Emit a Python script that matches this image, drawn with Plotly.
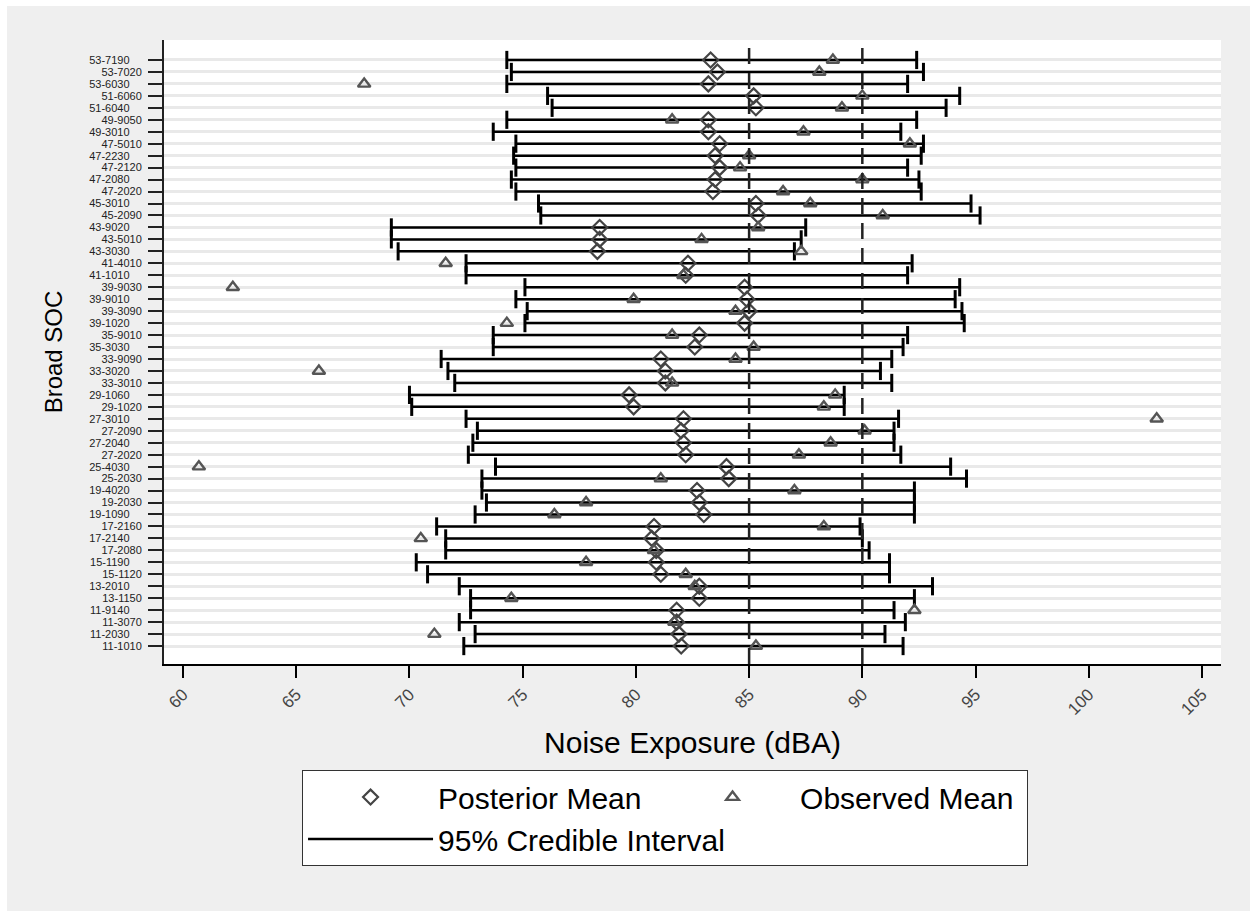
import plotly.graph_objects as go

categories = ["53-7190","53-7020","53-6030","51-6060","51-6040","49-9050","49-3010","47-5010","47-2230","47-2120",
              "47-2080","47-2020","45-3010","45-2090","43-9020","43-5010","43-3030","41-4010","41-1010","39-9030",
              "39-9010","39-3090","39-1020","35-9010","35-3030","33-9090","33-3020","33-3010","29-1060","29-1020",
              "27-3010","27-2090","27-2040","27-2020","25-4030","25-2030","19-4020","19-2030","19-1090","17-2160",
              "17-2140","17-2080","15-1190","15-1120","13-2010","13-1150","11-9140","11-3070","11-2030","11-1010"]

posterior_mean = [83.3,83.6,83.2,85.2,85.3,83.2,83.2,83.7,83.5,83.7,
                  83.5,83.4,85.3,85.4,78.4,78.4,78.3,82.3,82.2,84.8,
                  84.9,85.0,84.8,82.8,82.6,81.1,81.3,81.3,79.7,79.9,
                  82.1,82.0,82.1,82.2,84.0,84.1,82.7,82.8,83.0,80.8,
                  80.7,80.9,80.9,81.1,82.8,82.8,81.8,81.8,81.9,82.0]

observed_mean = [88.7,88.1,68.0,90.0,89.1,81.6,87.4,92.1,85.0,84.6,
                 90.0,86.5,87.7,90.9,85.4,82.9,87.3,71.6,82.1,62.2,
                 79.9,84.4,74.3,81.6,85.2,84.4,66.0,81.6,88.8,88.3,
                 103.0,90.1,88.6,87.2,60.7,81.1,87.0,77.8,76.4,88.3,
                 70.5,80.8,77.8,82.2,82.6,74.5,92.3,81.7,71.1,85.3]

ci_lower = [74.3,74.5,74.3,76.1,76.3,74.3,73.7,74.7,74.6,74.7,
            74.5,74.7,75.7,75.8,69.2,69.2,69.5,72.5,72.5,75.1,
            74.7,75.2,75.1,73.7,73.7,71.4,71.7,72.0,70.0,70.1,
            72.5,73.0,72.8,72.6,73.8,73.2,73.2,73.4,72.9,71.2,
            71.6,71.6,70.3,70.8,72.2,72.7,72.7,72.2,72.9,72.4]

ci_upper = [92.4,92.7,92.0,94.3,93.7,92.4,91.7,92.7,92.6,92.0,
            92.5,92.6,94.8,95.2,87.5,87.3,87.0,92.2,92.0,94.3,
            94.1,94.4,94.5,92.0,91.8,91.3,90.8,91.3,89.2,89.2,
            91.6,91.4,91.4,91.7,93.9,94.6,92.3,92.3,92.3,89.9,
            90.0,90.3,91.2,91.2,93.1,92.3,91.4,91.9,91.0,91.8]

reference_lines = [85, 90]
x_ticks = [60, 65, 70, 75, 80, 85, 90, 95, 100, 105]

# alternate tick label offsets (Stata 'alternate' style)
tick_text = [c + "\u00a0" * 4 if i % 2 == 0 else c for i, c in enumerate(categories)]

# build CI segments
ci_x, ci_y = [], []
for c, lo, hi in zip(categories, ci_lower, ci_upper):
    ci_x += [lo, hi, None]
    ci_y += [c, c, None]

cap_x = ci_lower + ci_upper
cap_y = categories + categories

fig = go.Figure()

fig.add_trace(go.Scatter(
    x=ci_x, y=ci_y, mode="lines", name="95% Credible Interval",
    line=dict(color="black", width=2.5), legendrank=3, hoverinfo="skip"))

fig.add_trace(go.Scatter(
    x=cap_x, y=cap_y, mode="markers", showlegend=False, hoverinfo="skip",
    marker=dict(symbol="line-ns", size=13, line=dict(color="black", width=3))))

fig.add_trace(go.Scatter(
    x=posterior_mean, y=categories, mode="markers", name="Posterior Mean",
    marker=dict(symbol="diamond-open", size=11.5, color="#444444", line=dict(width=2.2)),
    legendrank=1))

fig.add_trace(go.Scatter(
    x=observed_mean, y=categories, mode="markers", name="Observed Mean",
    marker=dict(symbol="triangle-up-open", size=11, color="#555555", line=dict(width=2.4)),
    legendrank=2))

shapes = []
for v in reference_lines:
    shapes.append(dict(type="line", xref="x", yref="paper", x0=v, x1=v, y0=0, y1=1,
                       line=dict(color="#222222", width=2.5, dash="16px,9px"), layer="above"))
# thin white border at top and left of the figure
shapes.append(dict(type="rect", xref="paper", yref="paper", x0=-0.3, x1=-0.1485, y0=-0.6, y1=1.3,
                   fillcolor="white", line=dict(width=0), layer="below"))
shapes.append(dict(type="rect", xref="paper", yref="paper", x0=-0.3, x1=1.3, y0=1.0545, y1=1.3,
                   fillcolor="white", line=dict(width=0), layer="below"))

n = len(categories)
fig.update_layout(
    width=1250, height=911,
    margin=dict(l=164, r=29, t=40, b=247),
    paper_bgcolor="#efefef", plot_bgcolor="white",
    font=dict(family="Liberation Sans, Arial, sans-serif", color="black"),
    shapes=shapes,
    showlegend=True,
    legend=dict(orientation="h", x=0.1306, xanchor="left", y=-0.17, yanchor="top",
                entrywidth=222, itemwidth=125, bgcolor="white", bordercolor="#333333", borderwidth=1,
                font=dict(size=30, color="black"), traceorder="normal"),
    xaxis=dict(range=[59.16, 105.84], tickvals=x_ticks, tickangle=-45,
               ticks="outside", ticklen=12, tickwidth=2, tickcolor="black",
               showline=True, linecolor="black", linewidth=2, showgrid=False, zeroline=False,
               tickfont=dict(size=17, color="#444444"),
               title=dict(text="Noise Exposure (dBA)", font=dict(size=30), standoff=14)),
    yaxis=dict(type="category", categoryorder="array", categoryarray=categories,
               range=[n - 1 + 1.5, -1.67], tickmode="array", tickvals=categories, ticktext=tick_text,
               ticks="outside", ticklen=14, tickwidth=2, tickcolor="#222222", ticklabelstandoff=4,
               showline=True, linecolor="#222222", linewidth=2,
               showgrid=True, gridcolor="#e9e9e9", gridwidth=2.5, zeroline=False,
               tickfont=dict(size=11, color="#222222"),
               title=dict(text="Broad SOC", font=dict(size=24), standoff=20)),
)

fig.write_html("out.html")
